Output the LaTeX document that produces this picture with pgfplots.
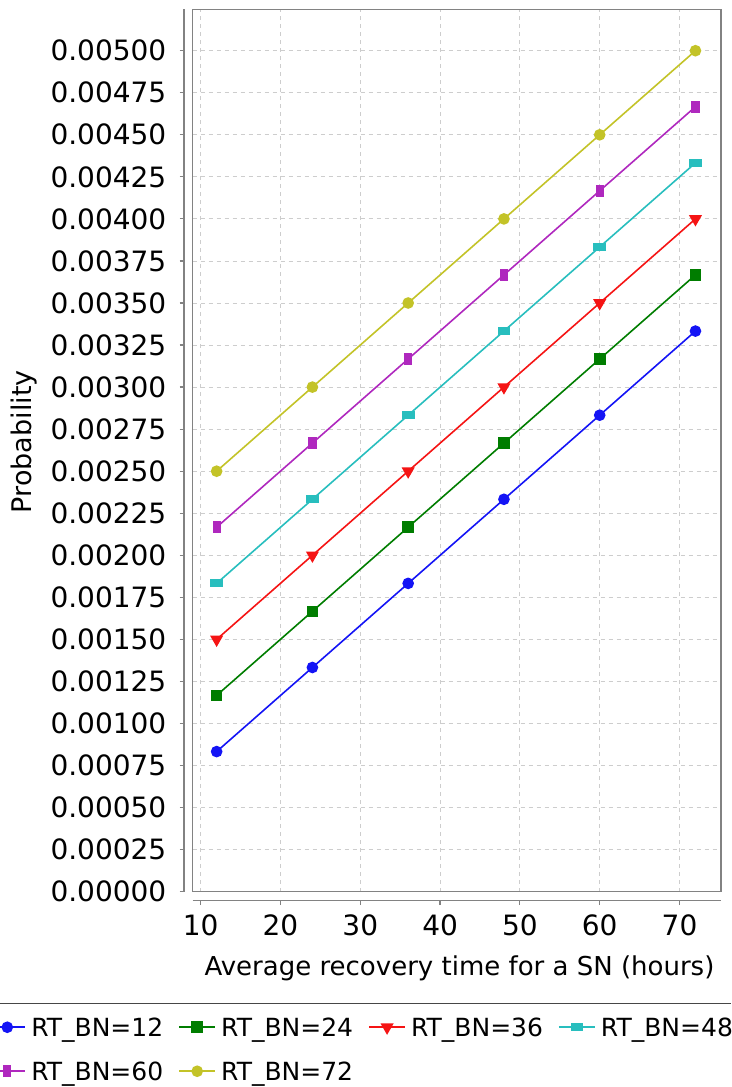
\documentclass[border=0pt]{standalone}
\usepackage{fontspec}
\setmainfont{DejaVu Sans}
\usepackage{pgfplots}
\pgfplotsset{compat=1.18}
\definecolor{cblue}{RGB}{20,20,245}
\definecolor{cgreen}{RGB}{0,125,0}
\definecolor{cred}{RGB}{245,20,20}
\definecolor{ccyan}{RGB}{40,190,190}
\definecolor{cmag}{RGB}{175,40,190}
\definecolor{colive}{RGB}{195,195,40}
\definecolor{axisgray}{RGB}{130,130,130}
\definecolor{gridgray}{RGB}{205,205,205}
\definecolor{legline}{RGB}{70,70,70}
\begin{document}
\begin{tikzpicture}
% offset y axis
\begin{axis}[
  at={(184pt,195.3pt)}, anchor=south west,
  scale only axis, width=10pt, height=882.2pt,
  xmin=0, xmax=1, ymin=0, ymax=0.005245,
  axis x line=none, axis y line=left,
  y axis line style={-, draw=axisgray, line width=1.3pt},
  ytick={0,0.00025,0.0005,0.00075,0.001,0.00125,0.0015,0.00175,0.002,0.00225,0.0025,0.00275,0.003,0.00325,0.0035,0.00375,0.004,0.00425,0.0045,0.00475,0.005},
  tick align=outside, major tick length=4.5pt,
  tick style={draw=axisgray, line width=1.2pt},
  /pgf/number format/assume math mode=true,
  scaled y ticks=false,
  yticklabel style={/pgf/number format/.cd, fixed, fixed zerofill, precision=5, /tikz/.cd, anchor=east, inner sep=0pt, xshift=-13pt, font=\fontsize{28}{28}\selectfont},
]
\end{axis}
% offset x axis
\begin{axis}[
  at={(192.7pt,186.3pt)}, anchor=south west,
  scale only axis, width=528.3pt, height=10pt,
  xmin=9, xmax=75.2, ymin=0, ymax=1,
  axis y line=none, axis x line=bottom,
  x axis line style={-, draw=axisgray, line width=1.3pt},
  xtick={10,20,30,40,50,60,70},
  tick align=outside, major tick length=4.5pt,
  tick style={draw=axisgray, line width=1.2pt},
  /pgf/number format/assume math mode=true,
  xticklabel style={anchor=center, inner sep=0pt, yshift=-20.5pt, font=\fontsize{28}{28}\selectfont},
]
\end{axis}
% main plot area
\begin{axis}[
  at={(192.7pt,195.3pt)}, anchor=south west,
  scale only axis, width=528.3pt, height=882.2pt,
  xmin=9, xmax=75.2, ymin=0, ymax=0.005245,
  xtick={10,20,30,40,50,60,70},
  ytick={0,0.00025,0.0005,0.00075,0.001,0.00125,0.0015,0.00175,0.002,0.00225,0.0025,0.00275,0.003,0.00325,0.0035,0.00375,0.004,0.00425,0.0045,0.00475,0.005},
  xticklabels={}, yticklabels={}, scaled y ticks=false,
  major tick length=0pt,
  grid=major,
  grid style={draw=gridgray, line width=0.9pt, dash pattern=on 4pt off 4pt},
  axis line style={draw=axisgray, line width=1.3pt},
  xlabel={Average recovery time for a SN (hours)},
  xlabel style={at={(axis description cs:0.505,-0.0865)}, anchor=center, font=\fontsize{26}{26}\selectfont},
  ylabel={Probability},
  ylabel style={at={(axis description cs:-0.3193,0.51)}, anchor=center, font=\fontsize{27}{27}\selectfont},
  legend columns=4,
  legend cell align=left,
  legend style={at={(axis description cs:-0.38653,-0.14345)}, anchor=north west,
    draw=none, fill=none, inner sep=0pt, outer sep=0pt,
    /tikz/column sep=0pt, /tikz/row sep=26pt,
    nodes={inner xsep=5.2pt, inner ysep=0pt, text width=141.9pt, align=left, text height=18pt, text depth=0pt, font=\fontsize{25}{25}\selectfont}},
  legend image code/.code={\draw[mark repeat=2,mark phase=2,#1] plot coordinates {(0pt,0pt) (18pt,0pt) (36pt,0pt)};},
  every axis plot/.append style={line width=1.6pt},
]
\addplot[cblue, mark=*, mark size=5pt] coordinates {(12,0.000833) (24,0.001333) (36,0.001833) (48,0.002333) (60,0.002833) (72,0.003333)};
\addlegendentry{RT\_BN=12}
\addplot[cgreen, mark=square*, mark size=5pt] coordinates {(12,0.001167) (24,0.001667) (36,0.002167) (48,0.002667) (60,0.003167) (72,0.003667)};
\addlegendentry{RT\_BN=24}
\addplot[cred, mark=triangle*, mark size=6pt, mark options={rotate=180}] coordinates {(12,0.0015) (24,0.002) (36,0.0025) (48,0.003) (60,0.0035) (72,0.004)};
\addlegendentry{RT\_BN=36}
\addplot[ccyan, mark=square*, mark size=3.3pt, mark options={xscale=1.7}] coordinates {(12,0.001833) (24,0.002333) (36,0.002833) (48,0.003333) (60,0.003833) (72,0.004333)};
\addlegendentry{RT\_BN=48}
\addplot[cmag, mark=square*, mark size=3.3pt, mark options={yscale=1.6}] coordinates {(12,0.002167) (24,0.002667) (36,0.003167) (48,0.003667) (60,0.004167) (72,0.004667)};
\addlegendentry{RT\_BN=60}
\addplot[colive, mark=*, mark size=5pt] coordinates {(12,0.0025) (24,0.003) (36,0.0035) (48,0.004) (60,0.0045) (72,0.005)};
\addlegendentry{RT\_BN=72}
\end{axis}
\draw[line width=1.5pt, legline] (0pt,83.5pt) -- (731pt,83.5pt);
\pgfresetboundingbox
\path (0pt,0pt) rectangle (731pt,1087pt);
\end{tikzpicture}
\end{document}
